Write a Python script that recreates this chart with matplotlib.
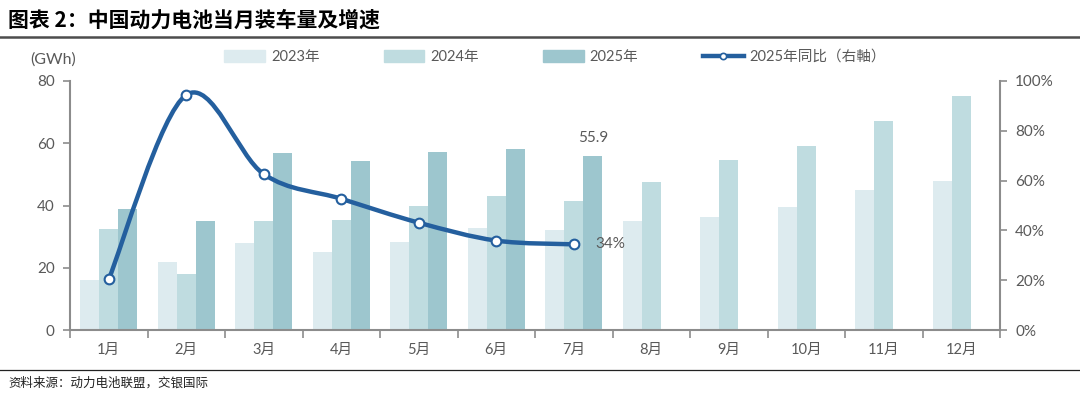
import matplotlib.pyplot as plt
from matplotlib.path import Path
from matplotlib.patches import PathPatch, Patch
from matplotlib.lines import Line2D
from matplotlib.transforms import IdentityTransform
import numpy as np

plt.rcParams['font.family'] = ['Lato', 'Noto Sans CJK SC', 'DejaVu Sans']

months = ['1月', '2月', '3月', '4月', '5月', '6月', '7月', '8月', '9月', '10月', '11月', '12月']
v2023 = [16.1, 21.9, 27.8, 25.1, 28.2, 32.9, 32.2, 34.9, 36.4, 39.4, 44.9, 47.9]
v2024 = [32.3, 18.0, 35.0, 35.5, 39.9, 42.9, 41.6, 47.4, 54.5, 59.2, 67.2, 75.3]
v2025 = [38.9, 35.0, 56.9, 54.2, 57.1, 58.3, 55.9]
yoy2025 = [20.4, 94.4, 62.6, 52.7, 43.1, 35.9, 34.4]

c23, c24, c25 = '#DDEBEF', '#BFDCE0', '#9DC6CE'
cline = '#245F9E'
grey = '#595959'
axgrey = '#8C8C8C'

fig = plt.figure(figsize=(10.8, 3.95), dpi=100)
ax = fig.add_axes([70 / 1080, 65 / 395, 930 / 1080, 249 / 395])
ax2 = ax.twinx()

x = np.arange(len(months))
w = 0.245
ax.bar(x - w, v2023, w, color=c23, zorder=2)
ax.bar(x, v2024, w, color=c24, zorder=2)
ax.bar(np.arange(len(v2025)) + w, v2025, w, color=c25, zorder=2)

ax.set_xlim(-0.5, len(months) - 0.5)
ax.set_ylim(0, 80)
ax.set_yticks([0, 20, 40, 60, 80])
ax2.set_ylim(0, 100)
ax2.set_yticks([0, 20, 40, 60, 80, 100])
ax2.set_yticklabels([f'{t}%' for t in [0, 20, 40, 60, 80, 100]])

ax.set_xticks(x)
ax.set_xticklabels(months)
ax.set_xticks(np.arange(-0.5, len(months)), minor=True)
ax.tick_params(axis='x', which='major', length=0, pad=9, labelsize=10.5, labelcolor=grey)
ax.tick_params(axis='x', which='minor', length=6, width=1.2, color=axgrey, direction='out')
ax.tick_params(axis='y', length=5, width=1.2, color=axgrey, labelsize=11, labelcolor=grey, pad=6)
ax2.tick_params(axis='y', length=5, width=1.2, color=axgrey, labelsize=11, labelcolor=grey, pad=6)

for a in (ax, ax2):
    for s in a.spines.values():
        s.set_visible(False)
ax.spines['left'].set_visible(True)
ax.spines['bottom'].set_visible(True)
ax2.spines['right'].set_visible(True)
for s in (ax.spines['left'], ax.spines['bottom'], ax2.spines['right']):
    s.set_color(axgrey)
    s.set_linewidth(1.5)

# smooth line (Excel-like) through the yoy points, built in display space
xl = np.arange(len(yoy2025))
fig.canvas.draw()
pts = ax2.transData.transform(np.column_stack([xl, yoy2025]))
verts = [pts[0]]
codes = [Path.MOVETO]
n = len(pts)
for i in range(n - 1):
    p0 = pts[i - 1] if i > 0 else pts[i]
    p1 = pts[i]
    p2 = pts[i + 1]
    p3 = pts[i + 2] if i + 2 < n else pts[i + 1]
    verts += [p1 + (p2 - p0) / 6, p2 - (p3 - p1) / 6, p2]
    codes += [Path.CURVE4] * 3
ax2.add_patch(PathPatch(Path(verts, codes), facecolor='none', edgecolor=cline,
                        lw=3.2, transform=IdentityTransform(), zorder=3, capstyle='round'))
ax2.plot(xl, yoy2025, linestyle='none', marker='o', ms=7, mfc='white', mec=cline, mew=1.5, zorder=4)

ax.text(6 + w, v2025[6] + 3.5, f'{v2025[6]:.1f}', ha='center', va='bottom', fontsize=11, color=grey)
ax2.text(6 + 0.28, yoy2025[6], f'{yoy2025[6]:.0f}%', ha='left', va='center', fontsize=11, color=grey)

fig.text(53 / 1080, 1 - 60 / 395, '(GWh)', ha='center', va='center', fontsize=11.5, color=grey)

handles = [Patch(color=c23), Patch(color=c24), Patch(color=c25),
           Line2D([0], [0], color=cline, lw=3.2, marker='o', ms=4.5, mfc='white', mec=cline, mew=1.2)]
labels = ['2023年', '2024年', '2025年', '2025年同比（右軸）']
fig.legend(handles, labels, loc='center', bbox_to_anchor=(555 / 1080, 1 - 57 / 395), ncol=4,
           frameon=False, fontsize=10.5, handlelength=2.8, handleheight=0.8, columnspacing=4.4,
           handletextpad=0.4, labelcolor=grey)

# title, rules and source
fig.text(8 / 1080, 1 - 20 / 395, '图表 2：中国动力电池当月装车量及增速', ha='left', va='center',
         fontsize=15, fontweight='bold', color='black', family=['Noto Sans CJK SC', 'DejaVu Sans'])
fig.add_artist(Line2D([0, 1], [1 - 37 / 395] * 2, color='#4D4D4D', lw=1.8))
fig.add_artist(Line2D([0, 1], [1 - 370 / 395] * 2, color='#222222', lw=0.9))
fig.text(8 / 1080, 1 - 383 / 395, '资料来源：动力电池联盟，交银国际', ha='left', va='center',
         fontsize=9, style='italic', color='#222222', family=['Noto Sans CJK SC', 'DejaVu Sans'])

fig.savefig('out.png', dpi=100)
